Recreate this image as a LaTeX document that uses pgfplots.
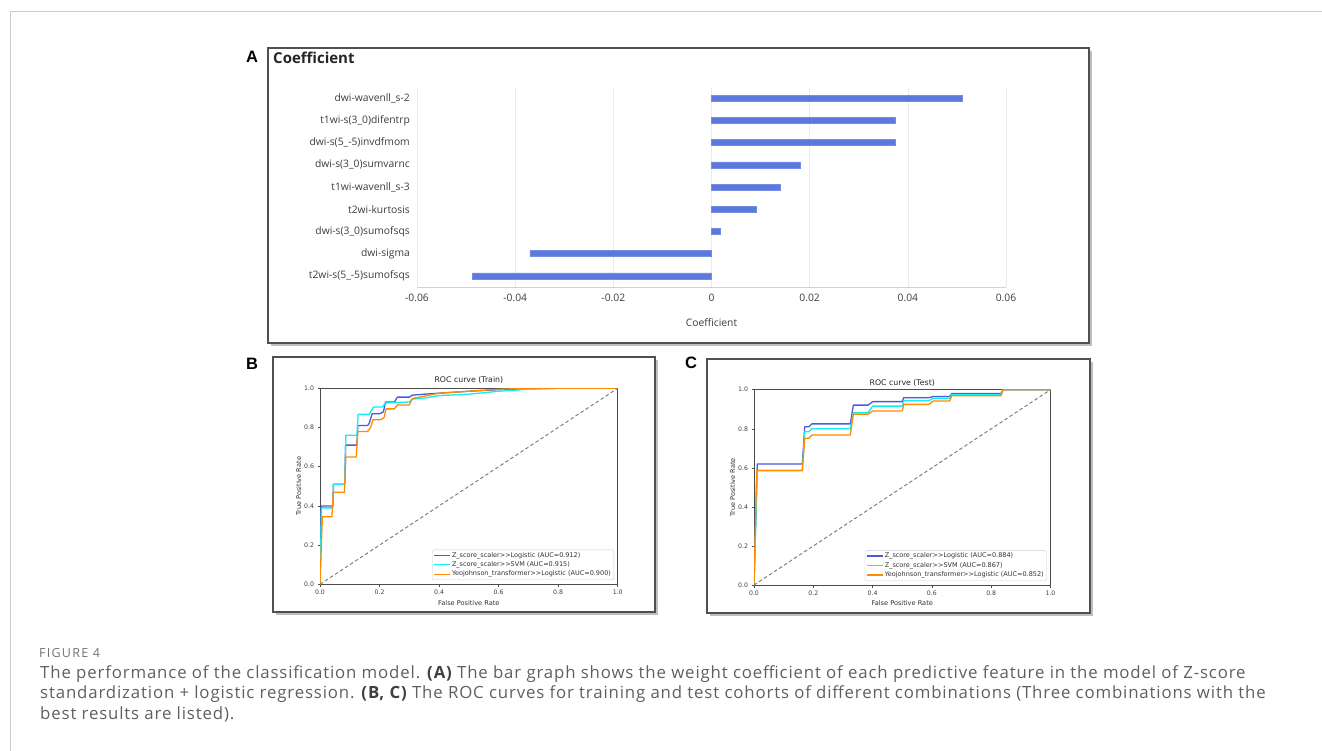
\documentclass[border=0pt]{standalone}
\usepackage{fontspec}
\setmainfont{Open Sans}
\newfontfamily\dejavu{DejaVu Sans}
\newfontfamily\arialf{Liberation Sans}
\newfontfamily\figfont{Open Sans}[LetterSpace=10]
\newfontfamily\capfont{Open Sans}[LetterSpace=5.1]
\usepackage{pgfplots}
\pgfplotsset{compat=1.18}
\definecolor{barblue}{RGB}{92,120,221}
\definecolor{rocblue}{RGB}{72,92,220}
\definecolor{roccyan}{RGB}{20,238,238}
\definecolor{rocorange}{RGB}{255,140,0}
\definecolor{boxgray}{RGB}{80,80,80}
\definecolor{capgray}{RGB}{95,95,95}
\definecolor{labgray}{RGB}{60,60,60}

\pgfplotsset{
  rocstyle/.style={
    scale only axis,
    xmin=0,xmax=1,ymin=0,ymax=1,
    xtick={0,0.2,0.4,0.6,0.8,1}, xticklabels={0.0,0.2,0.4,0.6,0.8,1.0},
    ytick={0,0.2,0.4,0.6,0.8,1}, yticklabels={0.0,0.2,0.4,0.6,0.8,1.0},
    tick pos=left, tick align=outside, major tick length=2.5pt,
    tick style={black!70, line width=0.5pt},
    axis line style={black!70, line width=0.6pt},
    /pgf/number format/assume math mode=true,
    ticklabel style={font=\dejavu\fontsize{6.2}{7}\selectfont, text=black!75},
    title style={font=\dejavu\fontsize{7.8}{9}\selectfont, text=black!85, at={(axis description cs:0.5,1)}, anchor=center},
    xlabel style={font=\dejavu\fontsize{6.6}{7.5}\selectfont, text=black!80, at={(axis description cs:0.5,0)}, anchor=center},
    ylabel style={font=\dejavu\fontsize{6.6}{7.5}\selectfont, text=black!80, anchor=center},
    legend style={at={(0.988,0.022)}, anchor=south east,
      font=\dejavu\fontsize{6.5}{7.5}\selectfont, text=black!80,
      draw=black!20, rounded corners=1.5pt, inner xsep=1.5pt, inner ysep=0.8pt,
      nodes={inner sep=1.5pt}},
    legend cell align=left,
    legend image code/.code={\draw[#1, line width=1.3pt] (0pt,0pt) -- (15.5pt,0pt);},
    every axis plot/.append style={line width=1.3pt, line join=round},
  }
}

\begin{document}
\begin{tikzpicture}[x=1pt,y=-1pt]
\path[use as bounding box] (0,0) rectangle (1322,751);
% outer frame
\draw[black!20, line width=1pt] (10,751) -- (10,12) -- (1322,12);

% panel boxes with shadows
\draw[black!25, line width=2pt] (1091,51) -- (1091,345) -- (271,345);
\draw[boxgray, line width=1.4pt, fill=white] (268,48) rectangle (1089,343);
\draw[black!25, line width=2pt] (657,360) -- (657,614) -- (276,614);
\draw[boxgray, line width=1.4pt, fill=white] (273,357) rectangle (655,612);
\draw[black!25, line width=2pt] (1092,362) -- (1092,615) -- (710,615);
\draw[boxgray, line width=1.4pt, fill=white] (707,359) rectangle (1090,613);

% panel letters
\node[font=\arialf\bfseries\fontsize{16.5}{18}\selectfont, anchor=center] at (252,57) {A};
\node[font=\arialf\bfseries\fontsize{16.5}{18}\selectfont, anchor=center] at (252,364) {B};
\node[font=\arialf\bfseries\fontsize{16.5}{18}\selectfont, anchor=center] at (691,363) {C};

% panel A title
\node[font=\bfseries\fontsize{15}{17}\selectfont, text=black!85, anchor=west, inner sep=0pt] at (273,58) {Coefficient};

% ---------------- Panel A ----------------
\begin{axis}[
  at={(417pt,-287pt)}, anchor=south west,
  scale only axis, width=589pt, height=200pt,
  xmin=-0.06, xmax=0.06, ymin=-0.5, ymax=8.5,
  scaled x ticks=false,
  xtick={-0.06,-0.04,-0.02,0,0.02,0.04,0.06},
  xticklabels={-0.06,-0.04,-0.02,0,0.02,0.04,0.06},
  ytick={0,1,2,3,4,5,6,7,8},
  yticklabels={t2wi-s(5\_-5)sumofsqs, dwi-sigma, dwi-s(3\_0)sumofsqs, t2wi-kurtosis, t1wi-wavenll\_s-3, dwi-s(3\_0)sumvarnc, dwi-s(5\_-5)invdfmom, t1wi-s(3\_0)difentrp, dwi-wavenll\_s-2},
  /pgf/number format/assume math mode=true,
  axis line style={draw=none}, major tick length=0pt,
  xmajorgrids, major grid style={draw=black!8, line width=0.6pt},
  xticklabel style={font=\fontsize{10.3}{12}\selectfont, text=labgray, yshift=-3pt},
  yticklabel style={font=\fontsize{10.3}{12}\selectfont, text=labgray, anchor=east, inner sep=0pt, xshift=-7pt},
  xlabel={Coefficient},
  xlabel style={font=\fontsize{10.3}{12}\selectfont, text=labgray, at={(axis description cs:0.5,0)}, anchor=center, yshift=-36pt},
  clip=false,
]
\draw[black!18, line width=0.8pt] (axis cs:-0.06,-0.5) -- (axis cs:0.06,-0.5);
\addplot[xbar, bar width=6pt, fill=barblue, draw=barblue!85!white, line width=0.5pt]
  coordinates {(-0.0487,0) (-0.0370,1) (0.0018,2) (0.0092,3) (0.0141,4) (0.0181,5) (0.0374,6) (0.0374,7) (0.0510,8)};
\end{axis}

% ---------------- Panel B ----------------
\begin{axis}[rocstyle,
  at={(320pt,-584.3pt)}, anchor=south west,
  width=297.7pt, height=196pt,
  title={ROC curve (Train)}, title style={yshift=1.8pt},
  xlabel={False Positive Rate}, xlabel style={yshift=-18.7pt},
  ylabel={True Positive Rate}, ylabel style={at={(axis description cs:-0.072,0.5)}},
]
\addplot[rocblue] coordinates {(0,0) (0.004,0.40) (0.043,0.40) (0.045,0.51) (0.083,0.51) (0.086,0.71) (0.124,0.71) (0.127,0.81) (0.16,0.81) (0.165,0.82) (0.175,0.87) (0.2,0.87) (0.213,0.88) (0.22,0.93) (0.25,0.93) (0.26,0.955) (0.3,0.955) (0.31,0.965) (0.35,0.97) (0.4,0.975) (0.5,0.985) (0.6,0.993) (0.7,0.998) (0.8,1.0) (1,1)};
\addlegendentry{Z\_score\_scaler>{}>Logistic (AUC=0.912)}
\addplot[roccyan] coordinates {(0,0) (0.005,0.39) (0.043,0.39) (0.046,0.51) (0.083,0.51) (0.087,0.76) (0.124,0.76) (0.128,0.867) (0.165,0.867) (0.18,0.905) (0.21,0.905) (0.22,0.925) (0.3,0.93) (0.31,0.945) (0.35,0.95) (0.4,0.963) (0.5,0.97) (0.6,0.985) (0.7,0.995) (0.8,1) (1,1)};
\addlegendentry{Z\_score\_scaler>{}>SVM (AUC=0.915)}
\addplot[rocorange] coordinates {(0,0) (0.008,0.345) (0.04,0.345) (0.045,0.47) (0.082,0.47) (0.087,0.65) (0.122,0.65) (0.127,0.78) (0.16,0.78) (0.17,0.80) (0.178,0.84) (0.205,0.84) (0.215,0.85) (0.222,0.895) (0.25,0.895) (0.26,0.915) (0.3,0.915) (0.31,0.948) (0.35,0.96) (0.4,0.975) (0.5,0.985) (0.6,0.995) (0.7,1.0) (1,1)};
\addlegendentry{Yeojohnson\_transformer>{}>Logistic (AUC=0.900)}
\addplot[gray, line width=1pt, dash pattern=on 3.5pt off 2.5pt, forget plot] coordinates {(0,0) (1,1)};
\end{axis}

% ---------------- Panel C ----------------
\begin{axis}[rocstyle,
  at={(754pt,-585pt)}, anchor=south west,
  width=296.5pt, height=195.3pt,
  title={ROC curve (Test)}, title style={yshift=0.4pt},
  xlabel={False Positive Rate}, xlabel style={yshift=-18.3pt},
  ylabel={True Positive Rate}, ylabel style={at={(axis description cs:-0.072,0.5)}},
]
\addplot[rocblue] coordinates {(0,0) (0.011,0.62) (0.163,0.62) (0.171,0.81) (0.185,0.81) (0.195,0.825) (0.325,0.825) (0.335,0.921) (0.385,0.921) (0.4,0.939) (0.5,0.939) (0.505,0.959) (0.59,0.959) (0.605,0.965) (0.66,0.965) (0.667,0.98) (0.833,0.98) (0.84,1.0) (1,1)};
\addlegendentry{Z\_score\_scaler>{}>Logistic (AUC=0.884)}
\addplot[roccyan] coordinates {(0,0) (0.011,0.588) (0.163,0.588) (0.171,0.785) (0.185,0.785) (0.195,0.80) (0.325,0.80) (0.335,0.882) (0.385,0.882) (0.4,0.916) (0.5,0.916) (0.505,0.944) (0.59,0.944) (0.605,0.956) (0.66,0.956) (0.667,0.975) (0.833,0.975) (0.84,1.0) (1,1)};
\addlegendentry{Z\_score\_scaler>{}>SVM (AUC=0.867)}
\addplot[rocorange] coordinates {(0,0) (0.009,0.585) (0.163,0.585) (0.171,0.751) (0.185,0.751) (0.195,0.768) (0.325,0.768) (0.335,0.875) (0.385,0.875) (0.4,0.891) (0.5,0.891) (0.505,0.925) (0.59,0.925) (0.605,0.942) (0.66,0.942) (0.667,0.969) (0.833,0.969) (0.84,1.0) (1,1)};
\addlegendentry{Yeojohnson\_transformer>{}>Logistic (AUC=0.852)}
\addplot[gray, line width=1pt, dash pattern=on 3.5pt off 2.5pt, forget plot] coordinates {(0,0) (1,1)};
\end{axis}

% ---------------- Caption ----------------
\node[anchor=base west, inner sep=0pt, font=\figfont\fontsize{12.5}{14}\selectfont, text=black!55] at (39,657) {FIGURE 4};
\node[anchor=base west, inner sep=0pt, font=\capfont\fontsize{16.8}{19}\selectfont, text=capgray] at (40,678) {The performance of the classification model. {\bfseries\color{black!75}(A)} The bar graph shows the weight coefficient of each predictive feature in the model of Z-score};
\node[anchor=base west, inner sep=0pt, font=\capfont\fontsize{16.8}{19}\selectfont, text=capgray] at (40,698.5) {standardization + logistic regression. {\bfseries\color{black!75}(B, C)} The ROC curves for training and test cohorts of different combinations (Three combinations with the};
\node[anchor=base west, inner sep=0pt, font=\capfont\fontsize{16.8}{19}\selectfont, text=capgray] at (40,719) {best results are listed).};
\end{tikzpicture}
\end{document}
